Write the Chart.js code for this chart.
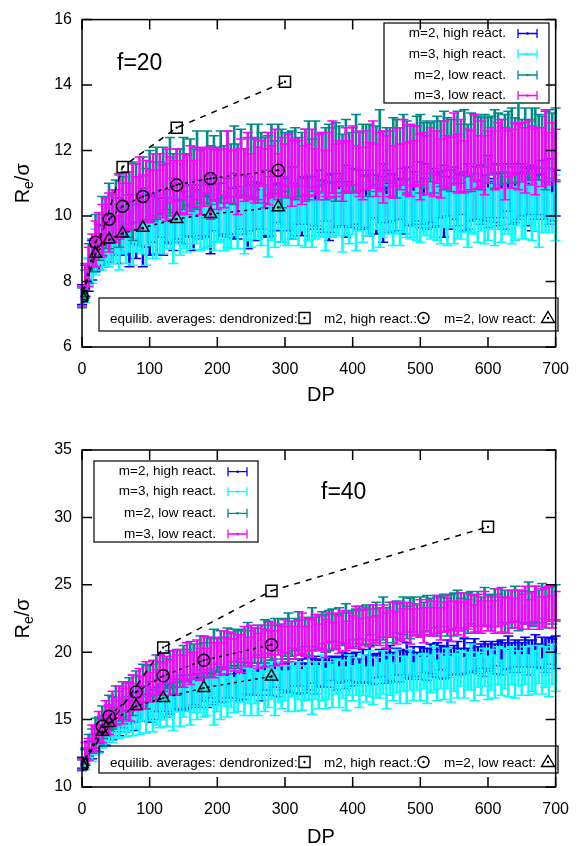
<!DOCTYPE html>
<html>
<head>
    <title>Re/sigma vs DP</title>
    <style>
        body {
            margin: 0;
            background: #fff;
        }
        canvas {
            position: absolute;
            left: 0;
        }
        #panelTop { top: 0; }
        #panelBottom { top: 410px; }
    </style>
</head>
<body>
    <canvas id="panelTop" width="582" height="410"></canvas>
    <canvas id="panelBottom" width="582" height="436"></canvas>

    <script src="https://cdn.jsdelivr.net/npm/chart.js"></script>
    <script>
        // DP positions of the sampled simulation points (both panels)
        const dpGrid = [0,5,10,15,20,25,30,35,40,45,50,55,60,65,70,75,80,85,90,95,100,
            105,110,115,120,125,130,135,140,145,150,155,160,165,170,175,180,185,190,195,200,
            205,210,215,220,225,230,235,240,245,250,255,260,265,270,275,280,285,290,295,300,
            305,310,315,320,325,330,335,340,345,350,355,360,365,370,375,380,385,390,395,400,
            405,410,415,420,425,430,435,440,445,450,455,460,465,470,475,480,485,490,495,500,
            505,510,515,520,525,530,535,540,545,550,555,560,565,570,575,580,585,590,595,600,
            605,610,615,620,625,630,635,640,645,650,655,660,665,670,675,680,685,690,695,700];

        const seriesNames = ['m=2, high react.', 'm=3, high react.', 'm=2, low react.', 'm=3, low react.'];
        const seriesColors = ['#0000ff', '#00ffff', '#008b8b', '#ff00ff'];

        // f=20 panel: mean values
        const m2HighF20 = [7.6,7.95,8.2,8.65,8.8,9.05,9.1,9.25,9.3,9.45,9.4,9.55,9.5,
            9.65,9.55,9.75,9.6,9.8,9.65,9.85,9.7,
            9.9,9.75,9.95,9.8,10.0,9.85,10.05,9.9,10.1,9.95,
            10.0,10.15,9.95,10.1,10.2,10.0,10.15,10.05,10.25,10.1,
            10.2,10.05,10.25,10.15,10.3,10.1,10.2,10.35,10.1,10.25,
            10.15,10.3,10.2,10.4,10.15,10.3,10.25,10.4,10.2,10.35,
            10.25,10.4,10.2,10.35,10.3,10.45,10.25,10.4,10.3,10.5,
            10.3,10.45,10.25,10.4,10.35,10.5,10.3,10.45,10.35,10.55,
            10.35,10.5,10.3,10.45,10.4,10.55,10.35,10.5,10.4,10.6,
            10.4,10.55,10.35,10.5,10.45,10.6,10.4,10.55,10.45,10.65,
            10.45,10.6,10.4,10.55,10.5,10.65,10.45,10.6,10.5,10.7,
            10.5,10.65,10.45,10.6,10.55,10.7,10.5,10.65,10.55,10.75,
            10.55,10.7,10.5,10.65,10.6,10.75,10.55,10.7,10.6,10.8,
            10.6,10.75,10.55,10.7,10.65,10.8,10.6,10.75,10.65,10.7];
        const m3HighF20 = [7.55,7.85,8.3,8.55,8.9,8.95,9.15,9.05,9.35,9.25,9.45,9.35,9.55,
            9.45,9.6,9.5,9.7,9.55,9.75,9.6,9.8,
            9.5,9.7,9.55,9.75,9.6,9.8,9.65,9.85,9.7,9.8,
            9.9,9.7,9.95,9.75,9.85,10.0,9.75,9.9,10.05,9.8,
            9.95,9.85,10.05,9.8,10.0,9.9,10.1,9.85,10.05,9.95,
            10.1,9.9,10.0,10.15,9.85,10.05,9.95,10.2,9.9,10.1,
            10.0,10.15,9.9,10.1,10.25,9.95,10.05,10.15,9.9,10.2,
            10.05,9.95,10.15,10.25,10.0,10.1,9.9,10.2,10.05,10.15,
            9.95,10.25,10.1,10.0,10.2,10.05,10.3,9.95,10.15,10.05,
            10.25,10.0,10.15,10.1,10.3,9.95,10.2,10.05,10.25,10.1,
            10.0,10.2,10.3,10.05,10.15,9.95,10.25,10.1,10.35,10.05,
            10.2,10.0,10.3,10.15,10.1,10.35,10.0,10.25,10.15,10.05,
            10.3,10.1,10.2,10.0,10.35,10.15,10.25,10.05,10.3,10.2,
            10.1,10.35,10.15,10.25,10.05,10.3,10.2,10.4,10.1,10.25];
        const m2LowF20 = [7.5,8.0,8.55,8.8,9.25,9.35,9.7,9.8,10.0,9.95,10.2,10.15,10.4,
            10.35,10.55,10.45,10.7,10.5,10.8,10.65,10.9,
            10.75,11.0,10.85,11.1,10.9,11.2,11.0,11.25,11.05,11.3,
            11.1,11.35,11.15,11.4,11.2,11.35,11.5,11.25,11.45,11.3,
            11.5,11.35,11.6,11.3,11.55,11.4,11.65,11.35,11.5,11.7,
            11.45,11.6,11.75,11.4,11.55,11.7,11.5,11.8,11.45,11.65,
            11.55,11.8,11.6,11.5,11.85,11.65,11.7,11.55,11.9,11.6,
            11.75,11.6,11.9,11.7,11.65,11.95,11.6,11.85,11.75,11.7,
            11.9,11.65,11.8,12.0,11.7,11.85,11.75,12.05,11.7,11.9,
            11.8,12.0,11.75,11.9,12.1,11.8,11.95,11.85,12.05,11.9,
            11.85,12.1,11.95,11.8,12.15,11.9,12.0,12.2,11.85,12.05,
            12.1,11.9,12.25,12.0,11.95,12.2,12.05,11.9,12.3,12.0,
            12.15,12.05,12.35,11.95,12.2,12.1,12.4,12.0,12.25,12.15,
            12.3,12.05,12.2,12.4,12.1,12.25,12.0,12.35,12.15,12.2];
        const m3LowF20 = [7.55,8.15,8.45,8.95,9.15,9.5,9.55,9.85,9.8,10.1,10.0,10.3,10.2,
            10.45,10.3,10.6,10.4,10.7,10.55,10.8,10.6,
            10.9,10.7,11.0,10.75,10.95,11.1,10.8,11.05,10.9,11.2,
            10.95,11.15,11.0,11.3,11.05,11.2,11.4,11.0,11.25,11.1,
            11.35,11.15,11.5,11.2,11.3,11.05,11.45,11.25,11.55,11.2,
            11.4,11.3,11.6,11.15,11.45,11.35,11.65,11.2,11.5,11.4,
            11.7,11.3,11.45,11.6,11.25,11.55,11.4,11.75,11.35,11.5,
            11.65,11.3,11.55,11.8,11.4,11.6,11.35,11.7,11.5,11.85,
            11.45,11.6,11.3,11.7,11.55,11.9,11.4,11.65,11.5,11.75,
            11.6,11.35,11.8,11.5,11.95,11.45,11.7,11.6,11.85,11.5,
            11.75,11.55,12.0,11.6,11.8,11.45,11.9,11.65,11.7,12.05,
            11.6,11.85,11.5,11.95,11.7,12.1,11.65,11.9,11.55,11.8,
            12.0,11.7,11.85,12.15,11.6,11.9,11.75,12.05,11.8,11.95,
            11.7,12.1,11.85,11.65,12.0,11.8,12.15,11.75,11.95,11.85];

        // f=20 panel: error bar half-lengths
        const errM2HighF20 = [0.3,0.4,0.5,0.6,0.5,0.7,0.6,0.8,0.7,0.9,0.6,1.0,0.7,
            0.8,1.1,0.6,0.9,0.7,1.2,0.8,0.9,
            0.7,0.9,0.6,1.0,0.8,0.7,1.1,0.6,0.9,0.8,
            0.6,0.8,1.0,0.7,0.9,0.6,0.8,1.2,0.7,0.9,
            0.8,0.6,0.9,0.7,1.0,0.8,0.6,0.9,1.1,0.7,
            0.9,0.7,0.6,1.0,0.8,0.9,0.7,0.6,1.0,0.8,
            0.7,1.1,0.8,0.6,0.9,0.7,1.0,0.8,0.6,0.9,
            0.8,0.6,1.0,0.9,0.7,0.8,0.6,1.1,0.7,0.9,
            0.6,0.9,0.7,0.8,1.0,0.6,0.9,0.7,1.2,0.8,
            0.9,0.7,0.8,0.6,1.0,0.9,0.7,0.8,0.6,1.0,
            0.7,1.0,0.6,0.9,0.8,0.7,1.1,0.6,0.9,0.8,
            0.8,0.6,0.9,1.0,0.7,0.8,0.6,0.9,0.7,1.1,
            0.6,0.9,0.8,0.7,1.0,0.6,0.8,0.9,0.7,0.8,
            0.9,0.7,1.0,0.8,0.6,0.9,0.7,1.0,0.8,0.7];
        const errM3HighF20 = [0.3,0.5,0.4,0.6,0.7,0.5,0.8,0.6,0.9,0.7,0.8,1.0,0.7,
            0.9,0.7,1.0,0.8,0.6,0.9,1.1,0.7,
            0.8,1.0,0.7,0.9,0.6,0.8,1.1,0.7,0.9,0.8,
            1.0,0.7,0.8,0.6,0.9,1.0,0.7,0.8,1.1,0.6,
            0.7,0.9,1.0,0.8,0.6,0.9,0.7,1.0,0.8,0.9,
            0.8,0.6,0.9,0.7,1.1,0.8,0.9,0.6,0.7,1.0,
            0.9,0.8,0.6,1.0,0.7,0.9,0.8,1.1,0.6,0.8,
            0.7,1.0,0.8,0.9,0.6,0.7,1.0,0.8,0.9,0.7,
            1.0,0.7,0.9,0.6,0.8,1.1,0.7,0.9,0.8,0.6,
            0.8,0.9,0.7,1.0,0.8,0.6,0.9,0.7,1.0,0.9,
            0.6,0.8,1.0,0.7,0.9,0.8,0.6,1.0,0.7,0.9,
            0.9,0.7,0.8,1.1,0.6,0.9,0.8,0.7,1.0,0.8,
            0.7,1.0,0.6,0.8,0.9,0.7,1.1,0.8,0.6,0.9,
            0.8,0.6,0.9,0.7,1.0,0.8,0.7,0.9,0.6,1.0];
        const errM2LowF20 = [0.3,0.5,0.6,0.5,0.8,0.7,0.9,0.8,1.0,0.7,0.9,1.1,0.8,
            1.0,0.8,1.2,0.9,0.7,1.0,0.8,1.1,
            0.9,1.1,0.8,1.0,0.7,1.2,0.9,0.8,1.0,1.1,
            0.8,1.0,0.9,1.2,0.8,0.7,1.1,0.9,1.0,0.8,
            1.1,0.8,1.0,0.9,1.2,0.8,1.0,0.7,0.9,1.1,
            0.9,1.2,0.8,1.0,0.9,1.1,0.8,1.0,1.2,0.9,
            1.0,0.8,1.1,0.9,0.7,1.0,1.2,0.8,1.0,0.9,
            0.8,1.1,0.9,1.0,1.2,0.8,0.9,1.1,0.8,1.0,
            1.2,0.9,1.0,0.8,1.1,0.9,1.0,1.2,0.9,0.8,
            0.9,1.0,1.2,0.8,1.0,1.1,0.8,0.9,1.0,1.2,
            1.0,0.8,0.9,1.1,0.9,1.0,1.2,0.8,1.1,0.9,
            1.1,0.9,1.0,0.8,1.2,0.9,1.0,1.1,0.8,1.0,
            0.9,1.2,0.8,1.0,0.9,1.1,0.9,1.0,1.2,0.8,
            1.0,0.9,1.1,0.9,1.0,0.8,1.2,0.9,1.0,1.1];
        const errM3LowF20 = [0.3,0.4,0.6,0.5,0.7,0.6,0.8,0.7,0.9,0.7,0.8,1.0,0.8,
            0.9,0.7,1.0,0.8,1.1,0.7,0.9,0.8,
            1.0,0.7,0.9,0.8,1.1,0.7,0.9,1.0,0.8,0.7,
            0.9,1.0,0.7,0.8,1.0,0.9,0.7,1.1,0.8,0.9,
            0.7,0.9,1.1,0.8,0.7,1.0,0.9,0.8,1.0,0.7,
            1.0,0.8,0.7,0.9,1.1,0.8,1.0,0.7,0.9,0.8,
            0.8,1.0,0.9,0.7,0.9,1.1,0.8,0.9,0.7,1.0,
            0.9,0.7,1.0,1.1,0.8,0.7,0.9,1.0,0.8,0.9,
            0.7,1.0,0.8,0.9,0.7,1.0,0.8,0.9,1.1,0.7,
            1.0,0.8,0.9,0.7,1.0,0.8,1.1,0.7,0.9,1.0,
            0.8,0.9,0.7,1.0,0.8,0.9,1.0,0.8,0.7,1.1,
            0.9,1.1,0.8,0.7,0.9,1.0,0.8,1.0,0.9,0.8,
            0.7,0.9,1.0,0.8,1.1,0.7,0.9,0.8,1.0,0.9,
            1.0,0.8,0.9,1.0,0.7,0.9,1.1,0.8,0.9,0.8];

        // f=20 equilibrium averages
        const eqDendDpF20 = [0, 60, 140, 300];
        const eqDendReF20 = [7.55, 11.5, 12.7, 14.1];
        const eqHighDpF20 = [0, 20, 40, 60, 90, 140, 190, 290];
        const eqHighReF20 = [7.55, 9.2, 9.9, 10.3, 10.6, 10.95, 11.15, 11.4];
        const eqLowDpF20 = [0, 20, 40, 60, 90, 140, 190, 290];
        const eqLowReF20 = [7.55, 8.85, 9.28, 9.47, 9.64, 9.91, 10.06, 10.27];

        // f=40 panel: mean values
        const m2HighF40 = [11.8,12.2,12.7,13.0,13.5,13.6,14.1,14.2,14.6,14.7,15.0,15.1,15.4,
            15.3,15.7,15.6,15.9,15.8,16.2,15.9,16.3,
            16.1,16.5,16.3,16.6,16.4,16.8,16.5,16.9,16.7,17.0,
            16.8,17.1,17.0,17.3,17.0,17.4,17.2,17.5,17.3,17.4,
            17.6,17.3,17.7,17.5,17.8,17.4,17.9,17.6,17.8,18.0,
            17.7,18.0,17.8,18.2,17.9,18.1,18.3,17.9,18.2,18.1,
            18.3,18.0,18.4,18.2,18.5,18.1,18.4,18.6,18.3,18.5,
            18.4,18.7,18.5,18.8,18.4,18.7,18.9,18.6,18.8,18.7,
            18.9,18.6,19.0,18.8,19.1,18.7,19.0,19.2,18.9,19.0,
            19.2,18.9,19.3,19.0,19.2,19.4,19.0,19.3,19.1,19.2,
            19.4,19.1,19.5,19.2,19.4,19.6,19.2,19.5,19.3,19.4,
            19.6,19.3,19.7,19.4,19.6,19.8,19.4,19.7,19.5,19.6,
            19.8,19.5,19.9,19.6,19.7,20.0,19.6,19.9,19.7,19.8,
            20.0,19.6,19.9,20.1,19.7,20.0,19.8,20.1,19.9,20.0];
        const m3HighF40 = [11.7,12.0,12.6,12.8,13.4,13.3,14.0,13.9,14.5,14.3,14.9,14.7,15.2,
            14.8,15.5,15.0,15.8,15.2,16.0,15.4,16.1,
            15.6,16.3,15.7,16.6,15.9,16.7,16.0,16.9,16.1,16.6,
            16.9,16.1,17.1,16.4,17.2,16.5,16.8,17.4,16.4,17.1,
            16.6,17.4,16.7,17.6,16.8,17.2,17.7,16.8,17.5,17.0,
            17.6,16.9,17.8,17.1,17.5,17.9,17.0,17.8,17.2,17.7,
            17.1,18.0,17.3,17.9,17.2,17.7,18.1,17.2,17.9,17.4,
            18.1,17.3,17.9,17.5,18.2,17.4,18.0,17.3,18.3,17.7,
            18.2,17.5,18.3,17.6,18.4,17.5,18.1,17.9,18.5,17.6,
            18.3,17.8,18.6,17.7,18.4,17.9,18.7,17.8,18.5,18.0,
            18.6,17.9,18.4,18.8,17.9,18.6,18.1,18.8,18.0,18.5,
            18.2,18.8,18.1,18.6,18.9,18.0,18.7,18.3,18.9,18.1,
            18.7,18.2,19.0,18.1,18.8,18.4,19.0,18.2,18.8,18.3,
            19.0,18.3,18.8,18.5,19.1,18.2,18.9,18.4,19.1,18.5];
        const m2LowF40 = [11.6,12.3,13.1,13.4,14.0,14.2,14.8,14.9,15.5,15.5,16.1,16.0,16.5,
            16.4,16.9,16.8,17.3,17.1,17.7,17.4,17.9,
            17.8,18.3,18.1,18.5,18.4,18.8,18.5,19.0,18.8,19.2,
            19.0,19.4,19.3,19.5,19.7,19.4,19.9,19.6,20.1,19.8,
            20.2,19.9,20.3,20.1,20.5,20.2,20.6,20.3,20.7,20.4,
            20.5,20.9,20.6,20.8,21.1,20.7,21.0,21.3,20.8,21.1,
            21.4,21.0,21.3,21.6,21.1,21.5,21.2,21.7,21.4,21.5,
            21.8,21.4,21.6,22.0,21.5,21.9,21.7,22.1,21.6,22.0,
            21.8,22.2,21.9,22.0,22.4,21.9,22.3,22.1,22.5,22.0,
            22.4,22.2,22.6,22.3,22.7,22.2,22.5,22.8,22.4,22.7,
            22.5,22.9,22.6,23.0,22.7,22.8,23.1,22.6,23.0,22.8,
            23.2,22.8,23.1,22.9,23.3,22.8,23.2,23.0,23.4,23.1,
            22.9,23.3,23.1,23.5,23.0,23.4,23.2,23.6,23.1,23.4,
            23.3,23.7,23.2,23.5,23.4,23.8,23.3,23.6,23.5,23.7];
        const m3LowF40 = [11.7,12.6,12.8,13.6,13.6,14.5,14.3,15.2,15.0,15.8,15.6,16.3,16.0,
            16.7,16.3,17.1,16.7,17.5,17.0,17.8,17.4,
            18.1,17.6,18.4,18.0,18.7,18.1,18.9,18.3,19.1,18.6,
            19.3,18.8,19.0,19.6,19.1,19.8,19.2,19.9,19.4,20.1,
            19.5,20.2,19.7,20.4,19.8,20.3,19.9,20.6,20.0,20.5,
            20.7,20.1,20.8,20.3,20.6,21.0,20.3,20.9,20.5,21.2,
            20.6,21.3,20.7,21.1,21.4,20.8,21.3,21.0,21.6,21.1,
            21.5,21.0,21.8,21.2,21.6,21.3,21.9,21.2,21.7,21.5,
            22.0,21.4,21.8,22.1,21.5,22.2,21.7,21.9,22.3,21.6,
            22.1,22.4,21.8,22.3,22.0,22.6,21.9,22.4,22.2,22.5,
            22.0,22.7,22.3,22.5,22.8,22.1,22.6,22.9,22.3,22.7,
            22.5,23.0,22.4,22.8,23.1,22.5,22.9,22.6,23.2,22.7,
            23.0,22.6,23.3,22.8,23.1,22.7,23.4,22.9,23.2,23.0,
            23.5,22.8,23.2,23.6,22.9,23.3,23.1,23.6,23.0,23.4];

        // f=40 panel: error bar half-lengths
        const errM2HighF40 = [0.4,0.6,0.7,0.9,0.8,1.0,0.9,1.1,1.0,1.2,0.9,1.3,1.0,
            1.2,1.0,1.4,1.1,0.9,1.3,1.0,1.5,
            1.1,0.9,1.3,1.0,1.2,1.4,0.9,1.1,1.0,1.3,
            1.0,1.2,0.9,1.4,1.1,1.0,1.3,0.9,1.2,1.1,
            1.3,1.0,1.1,0.9,1.2,1.0,1.4,1.1,0.9,1.2,
            0.9,1.2,1.4,1.0,1.1,1.3,0.9,1.2,1.0,1.1,
            1.2,1.0,0.9,1.3,1.0,1.1,1.2,0.9,1.4,1.0,
            1.0,1.3,1.1,0.9,1.2,1.0,1.1,1.3,0.9,1.2,
            1.1,0.9,1.2,1.0,1.4,1.1,0.9,1.0,1.2,1.3,
            1.3,1.1,1.0,1.2,0.9,1.3,1.0,1.1,0.9,1.2,
            0.9,1.2,1.1,1.0,1.3,0.9,1.2,1.4,1.0,1.1,
            1.2,1.0,1.3,0.9,1.1,1.2,1.0,0.9,1.3,1.0,
            1.0,1.1,0.9,1.3,1.0,1.2,1.1,1.0,1.2,0.9,
            1.1,1.3,1.0,1.2,0.9,1.1,1.3,1.0,1.1,1.2];
        const errM3HighF40 = [0.4,0.7,0.6,0.9,1.0,0.8,1.1,0.9,1.2,1.0,1.3,1.1,1.2,
            1.1,1.4,1.2,1.5,1.3,1.1,1.4,1.2,
            1.5,1.7,1.3,1.6,1.4,1.5,1.8,1.3,1.6,1.4,
            1.3,1.5,1.6,1.4,1.7,1.3,1.5,1.4,1.8,1.5,
            1.6,1.4,1.5,1.7,1.3,1.6,1.4,1.5,1.3,1.7,
            1.4,1.6,1.3,1.5,1.6,1.4,1.7,1.5,1.4,1.3,
            1.5,1.3,1.7,1.4,1.5,1.3,1.6,1.8,1.4,1.6,
            1.7,1.5,1.4,1.6,1.3,1.5,1.4,1.6,1.5,1.3,
            1.4,1.6,1.5,1.3,1.7,1.4,1.5,1.3,1.6,1.8,
            1.5,1.4,1.6,1.5,1.3,1.7,1.5,1.4,1.3,1.6,
            1.3,1.7,1.4,1.6,1.5,1.3,1.6,1.5,1.7,1.4,
            1.6,1.3,1.5,1.4,1.7,1.6,1.3,1.5,1.4,1.6,
            1.5,1.6,1.4,1.3,1.5,1.7,1.4,1.6,1.3,1.5,
            1.4,1.5,1.7,1.6,1.4,1.3,1.5,1.7,1.5,1.4];
        const errM2LowF40 = [0.4,0.6,0.8,0.9,1.1,1.0,1.2,1.1,1.3,1.2,1.4,1.1,1.3,
            1.4,1.2,1.5,1.3,1.1,1.4,1.6,1.2,
            1.3,1.5,1.2,1.4,1.1,1.3,1.6,1.2,1.4,1.3,
            1.2,1.4,1.3,1.1,1.5,1.3,1.2,1.4,1.6,1.2,
            1.4,1.2,1.5,1.3,1.2,1.4,1.1,1.3,1.5,1.2,
            1.3,1.1,1.4,1.6,1.2,1.3,1.5,1.2,1.3,1.4,
            1.5,1.3,1.2,1.4,1.3,1.1,1.4,1.6,1.2,1.3,
            1.2,1.4,1.5,1.2,1.3,1.4,1.2,1.5,1.3,1.1,
            1.4,1.2,1.3,1.5,1.1,1.3,1.4,1.2,1.6,1.3,
            1.3,1.5,1.2,1.3,1.4,1.2,1.5,1.3,1.1,1.4,
            1.2,1.3,1.4,1.2,1.5,1.3,1.2,1.4,1.3,1.6,
            1.4,1.2,1.3,1.5,1.2,1.4,1.3,1.1,1.4,1.2,
            1.3,1.4,1.2,1.3,1.6,1.2,1.4,1.3,1.5,1.2,
            1.2,1.5,1.3,1.4,1.2,1.3,1.5,1.2,1.4,1.3];
        const errM3LowF40 = [0.4,0.7,0.8,1.0,0.9,1.1,1.0,1.2,1.1,1.3,1.0,1.2,1.3,
            1.1,1.4,1.2,1.0,1.3,1.2,1.5,1.1,
            1.3,1.1,1.4,1.2,1.0,1.3,1.2,1.5,1.1,1.2,
            1.4,1.2,1.0,1.3,1.2,1.4,1.1,1.2,1.3,1.0,
            1.2,1.4,1.3,1.1,1.2,1.0,1.4,1.3,1.1,1.5,
            1.1,1.3,1.2,1.4,1.0,1.2,1.3,1.1,1.4,1.2,
            1.3,1.0,1.2,1.3,1.5,1.1,1.2,1.4,1.2,1.0,
            1.2,1.4,1.1,1.0,1.3,1.4,1.2,1.1,1.3,1.2,
            1.4,1.1,1.3,1.2,1.1,1.3,1.0,1.4,1.2,1.3,
            1.0,1.3,1.2,1.4,1.2,1.1,1.3,1.2,1.0,1.4,
            1.3,1.2,1.0,1.3,1.4,1.2,1.1,1.3,1.5,1.1,
            1.2,1.4,1.3,1.1,1.2,1.0,1.4,1.2,1.3,1.1,
            1.1,1.2,1.4,1.3,1.0,1.3,1.2,1.1,1.4,1.3,
            1.4,1.1,1.2,1.3,1.2,1.4,1.0,1.3,1.2,1.1];

        // f=40 equilibrium averages
        const eqDendDpF40 = [0, 120, 280, 600];
        const eqDendReF40 = [11.7, 20.35, 24.55, 29.3];
        const eqHighDpF40 = [0, 30, 40, 80, 120, 180, 280];
        const eqHighReF40 = [11.7, 14.5, 15.25, 17.05, 18.25, 19.4, 20.55];
        const eqLowDpF40 = [0, 30, 40, 80, 120, 180, 280];
        const eqLowReF40 = [11.7, 14.1, 14.75, 16.0, 16.6, 17.35, 18.2];

        const FONT = '"Liberation Sans", Arial, sans-serif';

        function pts(xs, ys, errs) {
            return xs.map((x, i) => ({ x: x, y: ys[i], e: errs ? errs[i] : 0 }));
        }

        function drawMarker(ctx, style, x, y) {
            ctx.beginPath();
            if (style === 'rect') {
                ctx.rect(x - 5.5, y - 5.5, 11, 11);
            } else if (style === 'circle') {
                ctx.arc(x, y, 5.5, 0, Math.PI * 2);
            } else {
                ctx.moveTo(x, y - 6.5);
                ctx.lineTo(x + 6.5, y + 4.5);
                ctx.lineTo(x - 6.5, y + 4.5);
                ctx.closePath();
            }
            ctx.stroke();
            ctx.beginPath();
            ctx.arc(x, y, 1.2, 0, Math.PI * 2);
            ctx.fill();
        }

        // error bars, frame, inner ticks, legends and labels
        const deco = {
            id: 'deco',
            beforeDatasetsDraw(chart) {
                const ctx = chart.ctx, xs = chart.scales.x, ys = chart.scales.y;
                const o = chart.options.plugins.deco;
                ctx.save();
                // legend of the simulation series
                const lg = o.legend;
                ctx.strokeStyle = '#000';
                ctx.lineWidth = 1.2;
                ctx.strokeRect(lg.x0, lg.y0, lg.x1 - lg.x0, lg.y1 - lg.y0);
                ctx.font = '13.5px ' + FONT;
                ctx.textAlign = 'right';
                ctx.textBaseline = 'middle';
                seriesNames.forEach((name, i) => {
                    const y = lg.rows[i];
                    ctx.fillStyle = '#000';
                    ctx.fillText(name, lg.textX, y);
                    ctx.strokeStyle = seriesColors[i];
                    ctx.fillStyle = seriesColors[i];
                    ctx.lineWidth = 1.3;
                    ctx.beginPath();
                    ctx.moveTo(lg.symX0, y); ctx.lineTo(lg.symX1, y);
                    ctx.moveTo(lg.symX0, y - 4.5); ctx.lineTo(lg.symX0, y + 4.5);
                    ctx.moveTo(lg.symX1, y - 4.5); ctx.lineTo(lg.symX1, y + 4.5);
                    ctx.stroke();
                    ctx.beginPath();
                    ctx.arc((lg.symX0 + lg.symX1) / 2, y, 1.3, 0, Math.PI * 2);
                    ctx.fill();
                });
                // error bars
                chart.data.datasets.forEach((ds) => {
                    if (!ds.isSim) return;
                    ctx.strokeStyle = ds.borderColor;
                    ctx.beginPath();
                    ds.data.forEach((p) => {
                        const x = xs.getPixelForValue(p.x);
                        const yLo = ys.getPixelForValue(p.y - p.e);
                        const yHi = ys.getPixelForValue(p.y + p.e);
                        ctx.moveTo(x - 5, yLo); ctx.lineTo(x + 5, yLo);
                        ctx.moveTo(x - 5, yHi); ctx.lineTo(x + 5, yHi);
                    });
                    ctx.lineWidth = 1.5;
                    ctx.stroke();
                    ctx.beginPath();
                    ds.data.forEach((p) => {
                        const x = xs.getPixelForValue(p.x);
                        ctx.moveTo(x, ys.getPixelForValue(p.y - p.e));
                        ctx.lineTo(x, ys.getPixelForValue(p.y + p.e));
                    });
                    ctx.lineWidth = 2.6;
                    ctx.stroke();
                });
                ctx.restore();
            },
            afterDatasetsDraw(chart) {
                const ctx = chart.ctx, xs = chart.scales.x, ys = chart.scales.y;
                const a = chart.chartArea;
                const o = chart.options.plugins.deco;
                ctx.save();
                // center dots of the equilibrium markers
                ctx.fillStyle = '#000';
                chart.data.datasets.forEach((ds, i) => {
                    if (ds.isSim) return;
                    chart.getDatasetMeta(i).data.forEach((el) => {
                        ctx.beginPath();
                        ctx.arc(el.x, el.y, 1.2, 0, Math.PI * 2);
                        ctx.fill();
                    });
                });
                // frame and inward ticks
                ctx.strokeStyle = '#000';
                ctx.lineWidth = 1.5;
                ctx.strokeRect(a.left, a.top, a.right - a.left, a.bottom - a.top);
                ctx.beginPath();
                xs.ticks.forEach((t) => {
                    const x = xs.getPixelForValue(t.value);
                    ctx.moveTo(x, a.bottom); ctx.lineTo(x, a.bottom - 10);
                    ctx.moveTo(x, a.top); ctx.lineTo(x, a.top + 10);
                });
                ys.ticks.forEach((t) => {
                    const y = ys.getPixelForValue(t.value);
                    ctx.moveTo(a.left, y); ctx.lineTo(a.left + 10, y);
                    ctx.moveTo(a.right, y); ctx.lineTo(a.right - 10, y);
                });
                ctx.stroke();
                // equilibrium legend
                const eb = o.eqBox;
                ctx.lineWidth = 1.2;
                ctx.strokeRect(eb.x0, eb.y0, eb.x1 - eb.x0, eb.y1 - eb.y0);
                ctx.font = '13.5px ' + FONT;
                ctx.textAlign = 'left';
                ctx.textBaseline = 'alphabetic';
                ctx.fillText('equilib. averages: dendronized:', 110, eb.base);
                ctx.fillText('m2, high react.:', 324, eb.base);
                ctx.fillText('m=2, low react:', 444, eb.base);
                ctx.lineWidth = 1.4;
                drawMarker(ctx, 'rect', 304.5, eb.base - 5);
                drawMarker(ctx, 'circle', 423.5, eb.base - 5);
                drawMarker(ctx, 'triangle', 548, eb.base - 5);
                // panel label
                ctx.font = '23px ' + FONT;
                ctx.fillText(o.fLabel, o.fX, o.fBase);
                // axis titles
                ctx.font = '20px ' + FONT;
                ctx.textAlign = 'center';
                ctx.fillText('DP', 321, o.dpBase);
                const cy = (a.top + a.bottom) / 2;
                ctx.translate(28.5, cy);
                ctx.rotate(-Math.PI / 2);
                ctx.textAlign = 'left';
                const wR = ctx.measureText('R').width;
                const wS = ctx.measureText('/\u03c3').width;
                ctx.font = '14px ' + FONT;
                const wE = ctx.measureText('e').width;
                const x0 = -(wR + wE + wS) / 2;
                ctx.fillText('e', x0 + wR, 4);
                ctx.font = '20px ' + FONT;
                ctx.fillText('R', x0, 0);
                ctx.fillText('/\u03c3', x0 + wR + wE, 0);
                ctx.restore();
            }
        };

        function makePanel(id, p) {
            const datasets = [];
            p.series.forEach((vals, i) => {
                datasets.push({
                    label: seriesNames[i],
                    data: pts(dpGrid, vals, p.errs[i]),
                    isSim: true,
                    borderColor: seriesColors[i],
                    showLine: false,
                    pointRadius: 0
                });
            });
            const eq = [
                { xs: p.eqDend[0], ys: p.eqDend[1], style: 'rect', radius: 7.8, dash: [6, 6] },
                { xs: p.eqHigh[0], ys: p.eqHigh[1], style: 'circle', radius: 6, dash: [3, 4] },
                { xs: p.eqLow[0], ys: p.eqLow[1], style: 'triangle', radius: 7, dash: [3, 4] }
            ];
            eq.forEach((e) => {
                datasets.push({
                    data: pts(e.xs, e.ys),
                    showLine: true,
                    borderColor: '#000',
                    borderWidth: 1.5,
                    borderDash: e.dash,
                    pointStyle: e.style,
                    pointRadius: e.radius,
                    pointBorderColor: '#000',
                    pointBorderWidth: 1.5,
                    pointBackgroundColor: 'rgba(0,0,0,0)'
                });
            });

            new Chart(document.getElementById(id), {
                type: 'scatter',
                data: { datasets: datasets },
                options: {
                    responsive: false,
                    animation: false,
                    devicePixelRatio: 1,
                    events: [],
                    layout: { padding: { left: 0, right: 22, top: p.padTop, bottom: 0 } },
                    scales: {
                        x: {
                            type: 'linear',
                            min: 0, max: 700,
                            grid: { display: false, drawTicks: false },
                            border: { display: false },
                            ticks: { stepSize: 100, padding: 13, color: '#000', font: { family: FONT, size: 16 } },
                            afterFit: (s) => { s.height = p.xHeight; }
                        },
                        y: {
                            min: p.yMin, max: p.yMax,
                            grid: { display: false, drawTicks: false },
                            border: { display: false },
                            ticks: { stepSize: p.yStep, padding: 10, color: '#000', font: { family: FONT, size: 16 } },
                            afterFit: (s) => { s.width = 82; }
                        }
                    },
                    plugins: {
                        legend: { display: false },
                        tooltip: { enabled: false },
                        deco: p.deco
                    }
                },
                plugins: [deco]
            });
        }

        makePanel('panelTop', {
            series: [m2HighF20, m3HighF20, m2LowF20, m3LowF20],
            errs: [errM2HighF20, errM3HighF20, errM2LowF20, errM3LowF20],
            eqDend: [eqDendDpF20, eqDendReF20],
            eqHigh: [eqHighDpF20, eqHighReF20],
            eqLow: [eqLowDpF20, eqLowReF20],
            yMin: 6, yMax: 16, yStep: 2,
            padTop: 12, xHeight: 63,
            deco: {
                legend: { x0: 384, y0: 23, x1: 549, y1: 103, textX: 506, symX0: 518, symX1: 537, rows: [33.5, 54, 75, 95.5] },
                eqBox: { x0: 99, y0: 298, x1: 558, y1: 331, base: 323 },
                fLabel: 'f=20', fX: 117, fBase: 70,
                dpBase: 401
            }
        });

        makePanel('panelBottom', {
            series: [m2HighF40, m3HighF40, m2LowF40, m3LowF40],
            errs: [errM2HighF40, errM3HighF40, errM2LowF40, errM3LowF40],
            eqDend: [eqDendDpF40, eqDendReF40],
            eqHigh: [eqHighDpF40, eqHighReF40],
            eqLow: [eqLowDpF40, eqLowReF40],
            yMin: 10, yMax: 35, yStep: 5,
            padTop: 40, xHeight: 59,
            deco: {
                legend: { x0: 94, y0: 51, x1: 258, y1: 132, textX: 216, symX0: 228, symX1: 247, rows: [61.7, 81.7, 103.3, 124] },
                eqBox: { x0: 99, y0: 336, x1: 558, y1: 363, base: 357 },
                fLabel: 'f=40', fX: 321, fBase: 89,
                dpBase: 433
            }
        });
    </script>
</body>
</html>
